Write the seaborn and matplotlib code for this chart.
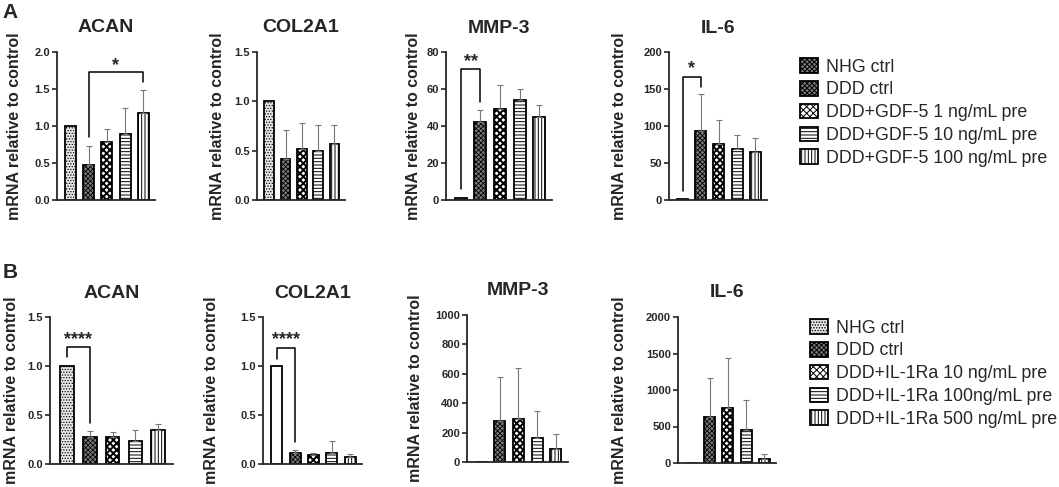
import numpy as np
import pandas as pd
import matplotlib
matplotlib.use("Agg")
import matplotlib.pyplot as plt
import seaborn as sns
from matplotlib.patches import Patch

# --- DATA ---
groups_a = ["NHG ctrl", "DDD ctrl", "DDD+GDF-5 1 ng/mL pre",
            "DDD+GDF-5 10 ng/mL pre", "DDD+GDF-5 100 ng/mL pre"]
groups_b = ["NHG ctrl", "DDD ctrl", "DDD+IL-1Ra 10 ng/mL pre",
            "DDD+IL-1Ra 100ng/mL pre", "DDD+IL-1Ra 500 ng/mL pre"]

a_acan_mean = [1.0, 0.47, 0.78, 0.89, 1.18]
a_acan_top = [1.0, 0.73, 0.96, 1.24, 1.49]
a_col_mean = [1.0, 0.42, 0.52, 0.50, 0.57]
a_col_top = [1.0, 0.71, 0.78, 0.76, 0.76]
a_mmp_mean = [1.0, 42, 49, 54, 45]
a_mmp_top = [1.0, 48.5, 62, 60, 51.5]
a_il6_mean = [1.0, 93, 76, 69, 65]
a_il6_top = [1.0, 143, 108, 88, 84]

b_acan_mean = [1.0, 0.28, 0.28, 0.23, 0.35]
b_acan_top = [1.0, 0.34, 0.33, 0.35, 0.41]
b_col_mean = [1.0, 0.11, 0.09, 0.11, 0.07]
b_col_top = [1.0, 0.14, 0.11, 0.23, 0.10]
b_mmp_mean = [1.0, 280, 295, 160, 90]
b_mmp_top = [1.0, 578, 640, 348, 190]
b_il6_mean = [1.0, 630, 750, 452, 50]
b_il6_top = [1.0, 1162, 1438, 862, 120]

# --- STYLE ---
sns.set_style("ticks")
plt.rcParams['font.family'] = ['Liberation Sans', 'DejaVu Sans']
plt.rcParams['hatch.linewidth'] = 0.7

faces = ["#e8e8e8", "#7c7c7c", "white", "white", "white"]
hatches = ["......", "xxxxxxx", "XXXXX", "-----", "|||||"]
hatch_lw = [0.6, 0.6, 1.4, 0.7, 0.7]

W, H = 1059, 487
fig = plt.figure(figsize=(W / 100, H / 100), dpi=100)


def add_axes(x0, x1, ytop, ybot):
    return fig.add_axes([x0 / W, 1 - ybot / H, (x1 - x0) / W, (ybot - ytop) / H])


def style_patch(p, i):
    p.set_hatch(hatches[i])
    if hasattr(p, "set_hatch_linewidth"):
        p.set_hatch_linewidth(hatch_lw[i])


def panel(ax, groups, means, tops, ymax, step, fmt, title, ylab_x, title_y,
          first_face=None):
    df = pd.DataFrame({"group": groups, "mean": means})
    fc = list(faces)
    if first_face:
        fc[0] = first_face
    sns.barplot(data=df, x="group", y="mean", hue="group", palette=fc,
                legend=False, width=0.6, edgecolor="black", linewidth=1.3,
                errorbar=None, ax=ax, saturation=1)
    for i, p in enumerate(ax.patches):
        style_patch(p, i)
    if first_face:
        ax.patches[0].set_hatch(None)
    idx = [i for i in range(len(means)) if tops[i] > means[i]]
    m = np.array(means)[idx]
    t = np.array(tops)[idx]
    ax.errorbar(idx, m, yerr=[np.zeros(len(idx)), t - m], fmt="none",
                ecolor="#777777", elinewidth=0.8, capsize=2.5, capthick=0.8)
    ax.set_ylim(0, ymax)
    ax.set_xlim(-0.75, 4.65)
    ticks = np.arange(0, ymax + step / 2, step)
    ax.set_yticks(ticks)
    ax.set_yticklabels([fmt.format(v) for v in ticks],
                       fontweight="bold", fontsize=8)
    ax.set_xticks([])
    ax.set_xlabel("")
    ax.set_ylabel("")
    sns.despine(ax=ax)
    for s in ["left", "bottom"]:
        ax.spines[s].set_linewidth(1.3)
    ax.tick_params(axis="y", length=3.5, width=1.2, pad=1.5)
    bb = ax.get_position()
    cx = (bb.x0 + bb.x1) / 2
    fig.text(cx, 1 - title_y / H, title, ha="center", va="baseline",
             fontsize=14, fontweight="bold")
    fig.text(ylab_x / W, (bb.y0 + bb.y1) / 2, "mRNA relative to control",
             rotation=90, ha="center", va="center", fontsize=11.5,
             fontweight="bold")


def bracket(ax, x1, x2, yl, yt, yr, label, ys):
    ax.plot([x1, x1, x2, x2], [yl, yt, yt, yr], color="black", lw=1.1,
            clip_on=False)
    ax.text((x1 + x2) / 2, ys, label, ha="center", va="center",
            fontsize=13, fontweight="bold", clip_on=False)


# --- ROW A ---
ax1 = add_axes(57, 155, 52, 200)
panel(ax1, groups_a, a_acan_mean, a_acan_top, 2.0, 0.5, "{:.1f}", "ACAN", 15, 32)
bracket(ax1, 1, 4, 0.85, 1.73, 1.6, "*", 1.82)

ax2 = add_axes(257, 345, 52, 200)
panel(ax2, groups_a, a_col_mean, a_col_top, 1.5, 0.5, "{:.1f}", "COL2A1", 217, 32)

ax3 = add_axes(446, 552, 52, 200)
panel(ax3, groups_a, a_mmp_mean, a_mmp_top, 80, 20, "{:.0f}", "MMP-3", 413, 33)
bracket(ax3, 0, 1, 6, 71, 53, "**", 75)

ax4 = add_axes(669, 767, 52, 200)
panel(ax4, groups_a, a_il6_mean, a_il6_top, 200, 50, "{:.0f}", "IL-6", 620, 33)
bracket(ax4, 0, 1, 12, 166, 153, "*", 178)

# --- ROW B ---
ax5 = add_axes(50, 173, 317, 464)
panel(ax5, groups_b, b_acan_mean, b_acan_top, 1.5, 0.5, "{:.1f}", "ACAN", 12, 298)
bracket(ax5, 0, 1, 1.09, 1.19, 0.42, "****", 1.27)

ax6 = add_axes(263, 362, 317, 464)
panel(ax6, groups_b, b_col_mean, b_col_top, 1.5, 0.5, "{:.1f}", "COL2A1", 212, 298,
      first_face="white")
bracket(ax6, 0, 1, 1.07, 1.18, 0.22, "****", 1.27)

ax7 = add_axes(467, 568, 315, 462)
panel(ax7, groups_b, b_mmp_mean, b_mmp_top, 1000, 200, "{:.0f}", "MMP-3", 415, 295)

ax8 = add_axes(678, 776, 317, 463)
panel(ax8, groups_b, b_il6_mean, b_il6_top, 2000, 500, "{:.0f}", "IL-6", 620, 297)

# --- PANEL LETTERS ---
fig.text(2 / W, 1 - 18 / H, "A", fontsize=15, fontweight="bold", va="baseline")
fig.text(3 / W, 1 - 278 / H, "B", fontsize=15, fontweight="bold", va="baseline")


# --- LEGENDS ---
def legend(labels, x, ytop, style_index):
    handles = []
    for i, l in enumerate(labels):
        k = style_index[i]
        p = Patch(facecolor=faces[k], edgecolor="black", linewidth=1.3, label=l)
        style_patch(p, k)
        handles.append(p)
    fig.legend(handles=handles, loc="upper left", bbox_to_anchor=(x / W, 1 - ytop / H),
               frameon=False, fontsize=12.8, handlelength=1.0, handleheight=0.9,
               handletextpad=0.45, labelspacing=0.3, borderpad=0, borderaxespad=0)


# in panel A the NHG swatch is printed with the DDD ctrl pattern
legend(groups_a, 800, 58, [1, 1, 2, 3, 4])
legend(groups_b, 810, 319, [0, 1, 2, 3, 4])

fig.savefig("out.png", dpi=100)
